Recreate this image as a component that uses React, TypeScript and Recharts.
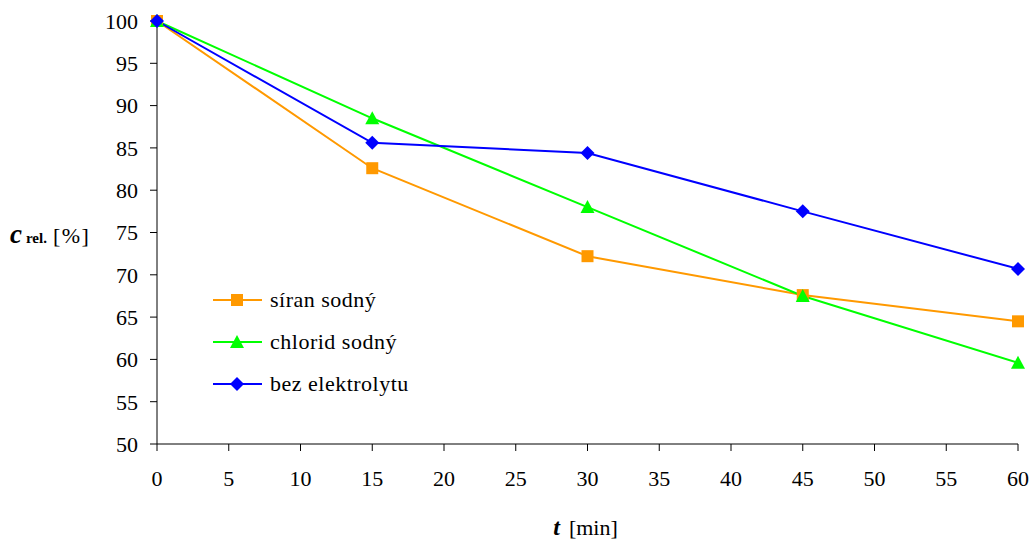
import { LineChart, Line, XAxis, YAxis, Label } from "recharts"

const times = [0, 15, 30, 45, 60]
const siranSodny = [100, 82.6, 72.2, 67.6, 64.5]
const chloridSodny = [100, 88.5, 78, 67.5, 59.6]
const bezElektrolytu = [100, 85.6, 84.4, 77.5, 70.7]
const xTicks = [0, 5, 10, 15, 20, 25, 30, 35, 40, 45, 50, 55, 60]
const yTicks = [50, 55, 60, 65, 70, 75, 80, 85, 90, 95, 100]

const ORANGE = "#ff9900"
const GREEN = "#00ff00"
const BLUE = "#0000ff"
const FONT = "'Liberation Serif', 'Times New Roman', serif"

const data = times.map((t, i) => ({
  t,
  siran: siranSodny[i],
  chlorid: chloridSodny[i],
  bez: bezElektrolytu[i]
}))

type Shape = "square" | "triangle" | "diamond"

function marker(shape: Shape, color: string, cx: number, cy: number, key?: string) {
  if (shape === "square") {
    return <rect key={key} x={cx - 6} y={cy - 6} width={12} height={12} fill={color} />
  }
  if (shape === "triangle") {
    return <polygon key={key} points={`${cx},${cy - 7} ${cx + 7},${cy + 6} ${cx - 7},${cy + 6}`} fill={color} />
  }
  return <polygon key={key} points={`${cx},${cy - 7} ${cx + 7},${cy} ${cx},${cy + 7} ${cx - 7},${cy}`} fill={color} />
}

const dotFor = (shape: Shape, color: string) => (props: any) =>
  marker(shape, color, props.cx, props.cy, `${shape}-${props.index}`)

const series = [
  { key: "siran", name: "síran sodný", color: ORANGE, shape: "square" as Shape },
  { key: "chlorid", name: "chlorid sodný", color: GREEN, shape: "triangle" as Shape },
  { key: "bez", name: "bez elektrolytu", color: BLUE, shape: "diamond" as Shape }
]

// legend drawn as an overlay, so it does not shift the plot area
function LegendBox() {
  return (
    <svg width={230} height={130} style={{ position: "absolute", left: 210, top: 285, overflow: "visible" }}>
      {series.map((s, i) => {
        const y = 15 + i * 42
        return (
          <g key={s.key}>
            <line x1={3} x2={52} y1={y} y2={y} stroke={s.color} strokeWidth={2} />
            {marker(s.shape, s.color, 27, y)}
            <text x={60} y={y + 7} fontFamily={FONT} fontSize={22} fill="#000" letterSpacing={0.5}>
              {s.name}
            </text>
          </g>
        )
      })}
    </svg>
  )
}

export default function App() {
  return (
    <div style={{ position: "absolute", left: 0, top: 0, width: 1031, height: 540, background: "#fff" }}>
      <LineChart width={1031} height={540} data={data} margin={{ top: 21, right: 13, bottom: 56, left: 97 }}>
        <XAxis
          dataKey="t"
          type="number"
          domain={[0, 60]}
          ticks={xTicks}
          stroke="#000"
          tickSize={7}
          tickMargin={19}
          tick={{ fill: "#000", fontFamily: FONT, fontSize: 22 }}
          height={40}
        >
          <Label
            content={(p: any) => {
              const vb = p.viewBox
              return (
                <text x={vb.x + vb.width / 2 - 2} y={535} textAnchor="middle" fontFamily={FONT} fill="#000">
                  <tspan fontSize={24} fontWeight="bold" fontStyle="italic">t</tspan>
                  <tspan fontSize={22} dx={9}>[min]</tspan>
                </text>
              )
            }}
          />
        </XAxis>
        <YAxis
          type="number"
          domain={[50, 100]}
          ticks={yTicks}
          stroke="#000"
          tickSize={7}
          tickMargin={12}
          tick={{ fill: "#000", fontFamily: FONT, fontSize: 22 }}
          width={60}
          interval={0}
        >
          <Label
            content={() => (
              <text x={10} y={243} fontFamily={FONT} fill="#000">
                <tspan fontSize={27} fontWeight="bold" fontStyle="italic">c</tspan>
                <tspan fontSize={15} fontWeight="bold" dx={4}>rel.</tspan>
                <tspan fontSize={22} dx={6} letterSpacing={1.5}>[%]</tspan>
              </text>
            )}
          />
        </YAxis>
        {series.map(s => (
          <Line
            key={s.key}
            dataKey={s.key}
            name={s.name}
            stroke={s.color}
            strokeWidth={2}
            dot={dotFor(s.shape, s.color)}
            activeDot={false}
            isAnimationActive={false}
          />
        ))}
      </LineChart>
      <LegendBox />
    </div>
  )
}
